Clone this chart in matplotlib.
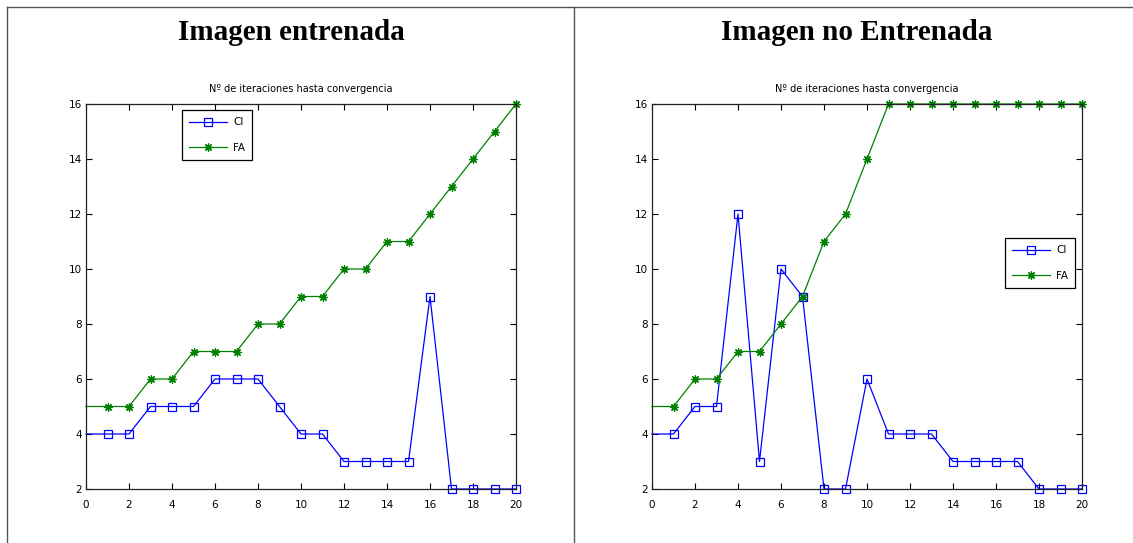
import matplotlib
matplotlib.use('Agg')
import matplotlib.pyplot as plt
from matplotlib.lines import Line2D

# iteration index
x = list(range(21))

# Imagen entrenada
ci_train = [4, 4, 4, 5, 5, 5, 6, 6, 6, 5, 4, 4, 3, 3, 3, 3, 9, 2, 2, 2, 2]
fa_train = [5, 5, 5, 6, 6, 7, 7, 7, 8, 8, 9, 9, 10, 10, 11, 11, 12, 13, 14, 15, 16]

# Imagen no entrenada
ci_test = [4, 4, 5, 5, 12, 3, 10, 9, 2, 2, 6, 4, 4, 4, 3, 3, 3, 3, 2, 2, 2]
fa_test = [5, 5, 6, 6, 7, 7, 8, 9, 11, 12, 14, 16, 16, 16, 16, 16, 16, 16, 16, 16, 16]

titles = ['Imagen entrenada', 'Imagen no Entrenada']
subtitle = 'Nº de iteraciones hasta convergencia'
xticks = list(range(0, 21, 2))
yticks = list(range(2, 17, 2))

fig = plt.figure(figsize=(11.33, 5.43), dpi=100)

# table-like borders
W, H = 1133, 543
for (x0, y0, x1, y1) in [(7, 7, W, 7), (7, 7, 7, H), (574, 7, 574, H)]:
    fig.add_artist(Line2D([x0 / W, x1 / W], [1 - y0 / H, 1 - y1 / H],
                          color='#555555', lw=1.0))

panels = [(ci_train, fa_train, 86, (0.223, 0.984)),
          (ci_test, fa_test, 652, (0.821, 0.652))]

# MATLAB-like '*' (8 spokes)
star = (8, 2, 0)

for i, (ci, fa, left_px, leg_pos) in enumerate(panels):
    ax = fig.add_axes([left_px / W, 1 - 489 / H, 430 / W, 385 / H])
    ax.plot(x, ci, color='#0000ff', lw=0.9, marker='s', ms=5.5,
            mfc='none', mec='#0000ff', mew=0.9, markevery=slice(1, None),
            label='CI', clip_on=False)
    ax.plot(x, fa, color='#008000', lw=0.9, marker=star, ms=6,
            mec='#008000', mew=0.9, markevery=slice(1, None), label='FA',
            clip_on=False)
    ax.set_xlim(0, 20)
    ax.set_ylim(2, 16)
    ax.set_xticks(xticks)
    ax.set_yticks(yticks)
    ax.tick_params(direction='in', top=True, right=True, length=4,
                   width=0.8, labelsize=7.5, pad=3)
    ax.tick_params(axis='x', pad=8)
    for s in ax.spines.values():
        s.set_linewidth(0.9)
        s.set_color('#222222')
    ax.set_title(subtitle, fontsize=7, pad=9)
    leg = ax.legend(loc='upper left', bbox_to_anchor=leg_pos, fontsize=7.5,
                    fancybox=False, edgecolor='black', framealpha=1,
                    handlelength=3.6, borderpad=0.7, labelspacing=1.5,
                    handletextpad=0.6, borderaxespad=0)
    leg.get_frame().set_linewidth(0.9)

    cx = (left_px + 205) / W
    fig.text(cx, 1 - 33 / H, titles[i], ha='center', va='center',
             fontsize=21, fontweight='bold', family='Liberation Serif')

fig.savefig('out.png', dpi=100)
